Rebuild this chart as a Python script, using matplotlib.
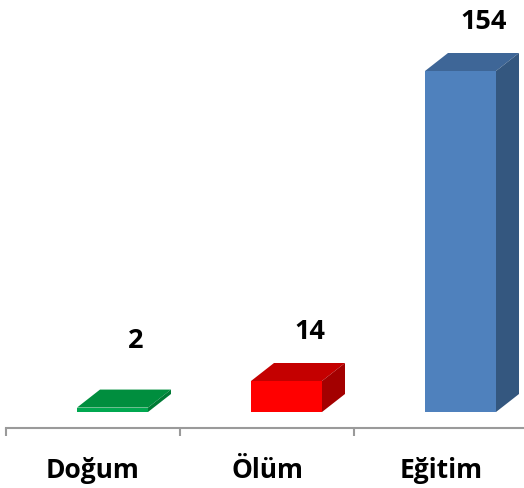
import matplotlib
matplotlib.use("Agg")
import matplotlib.pyplot as plt
from matplotlib.patches import Polygon

categories = ["Doğum", "Ölüm", "Eğitim"]
values = [2, 14, 154]
front_colors = ["#00A850", "#FF0000", "#4F81BD"]
top_colors = ["#008E3E", "#C40000", "#3E6697"]
side_colors = ["#007A35", "#A30000", "#34577F"]
label_gap_px = [50, 32, 32]

W, H, DPI = 524, 489, 100
fig = plt.figure(figsize=(W / DPI, H / DPI), dpi=DPI)

ax_left, ax_right = 6, 528
ax_bottom_px = 429
ax = fig.add_axes([ax_left / W, (H - ax_bottom_px) / H, (ax_right - ax_left) / W, ax_bottom_px / H])
ax.set_xlim(-0.5, 2.5)
px_per_unit = 341 / 154
base_px = 413
ax.set_ylim(-(ax_bottom_px - base_px) / px_per_unit, base_px / px_per_unit)

slot_px = (ax_right - ax_left) / 3
bar_off = -16 / slot_px
bar_w = 71 / slot_px
dx = 23 / slot_px
dy = 18 / px_per_unit

xs = [i + bar_off for i in range(len(values))]
ax.bar(xs, values, width=bar_w, align="edge", color=front_colors, zorder=3, linewidth=0)
for x, v, tc, sc in zip(xs, values, top_colors, side_colors):
    top = Polygon([(x, v), (x + bar_w, v), (x + bar_w + dx, v + dy), (x + dx, v + dy)],
                  closed=True, facecolor=tc, edgecolor="none", zorder=3)
    side = Polygon([(x + bar_w, 0), (x + bar_w + dx, dy), (x + bar_w + dx, v + dy), (x + bar_w, v)],
                   closed=True, facecolor=sc, edgecolor="none", zorder=3)
    ax.add_patch(top)
    ax.add_patch(side)

font = "Open Sans"
for x, v, g in zip(xs, values, label_gap_px):
    ax.annotate(str(v), xy=(x + bar_w / 2 + dx, v + dy), xytext=(0, g * 0.72),
                textcoords="offset points", ha="center", va="center",
                fontsize=19.5, fontweight="bold", family=font, color="black")

for s in ["top", "right", "left"]:
    ax.spines[s].set_visible(False)
ax.spines["bottom"].set_color("#9A9A9A")
ax.spines["bottom"].set_linewidth(1.5)
ax.set_yticks([])
ax.set_xticks(range(len(categories)))
ax.set_xticklabels(categories, fontsize=19, fontweight="bold", family=font)
ax.set_xticks([-0.5, 0.5, 1.5, 2.5], minor=True)
ax.tick_params(axis="x", which="major", length=0, pad=20)
ax.tick_params(axis="x", which="minor", length=6, width=1.5, color="#9A9A9A", direction="out")

fig.savefig("out.png", dpi=DPI)
